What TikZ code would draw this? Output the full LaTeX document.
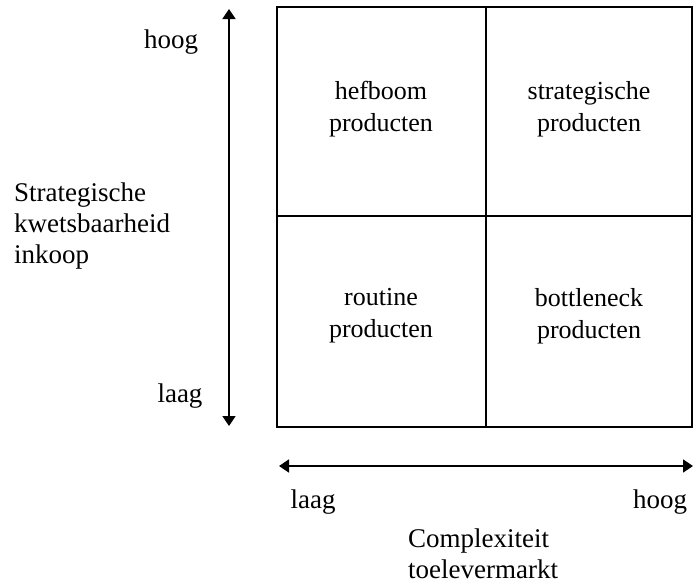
\documentclass[tikz,border=0pt]{standalone}
\usepackage{fontspec}
\setmainfont{Liberation Serif}
\usetikzlibrary{arrows.meta}
\begin{document}
\begin{tikzpicture}[x=1pt,y=-1pt,
  lbl/.style={font=\fontsize{26}{32}\selectfont, inner sep=0pt, align=center},
  side/.style={font=\fontsize{27}{31}\selectfont, inner sep=0pt, align=left},
  grid line/.style={line width=1.8pt},
  axis/.style={line width=1.8pt, {Triangle[length=10pt,width=13pt]}-{Triangle[length=10pt,width=13pt]}}]
  \useasboundingbox (0,0) rectangle (693,581);

  % matrix frame and quadrant dividers
  \coordinate (tl) at (277,7);
  \coordinate (br) at (692,427);
  \draw[grid line] (tl) rectangle (br);
  \coordinate (vt) at (486,7);
  \coordinate (vb) at (486,427);
  \coordinate (hl) at (277,216);
  \coordinate (hr) at (692,216);
  \draw[grid line] (vt) -- (vb);
  \draw[grid line] (hl) -- (hr);

  % quadrant labels
  \node[lbl] (hefboom) at (381,109) {hefboom\\producten};
  \node[lbl] (strat) at (589,109) {strategische\\producten};
  \node[lbl] (routine) at (381,316) {routine\\producten};
  \node[lbl] (bottle) at (589,316) {bottleneck\\producten};

  % vertical axis
  \coordinate (ytop) at (229,9);
  \coordinate (ybot) at (229,426);
  \draw[axis] (ybot) -- (ytop);
  \node[side] (yhigh) at (171,42) {hoog};
  \node[side] (ylow) at (180,396) {laag};
  \node[side, anchor=west] (ytitle) at (14,226) {Strategische\\kwetsbaarheid\\inkoop};

  % horizontal axis
  \coordinate (xleft) at (279,466);
  \coordinate (xright) at (693,466);
  \draw[axis] (xleft) -- (xright);
  \node[side] (xlow) at (313,502) {laag};
  \node[side] (xhigh) at (660,502) {hoog};
  \node[side, anchor=west] (xtitle) at (408,554) {Complexiteit\\toelevermarkt};
\end{tikzpicture}
\end{document}
